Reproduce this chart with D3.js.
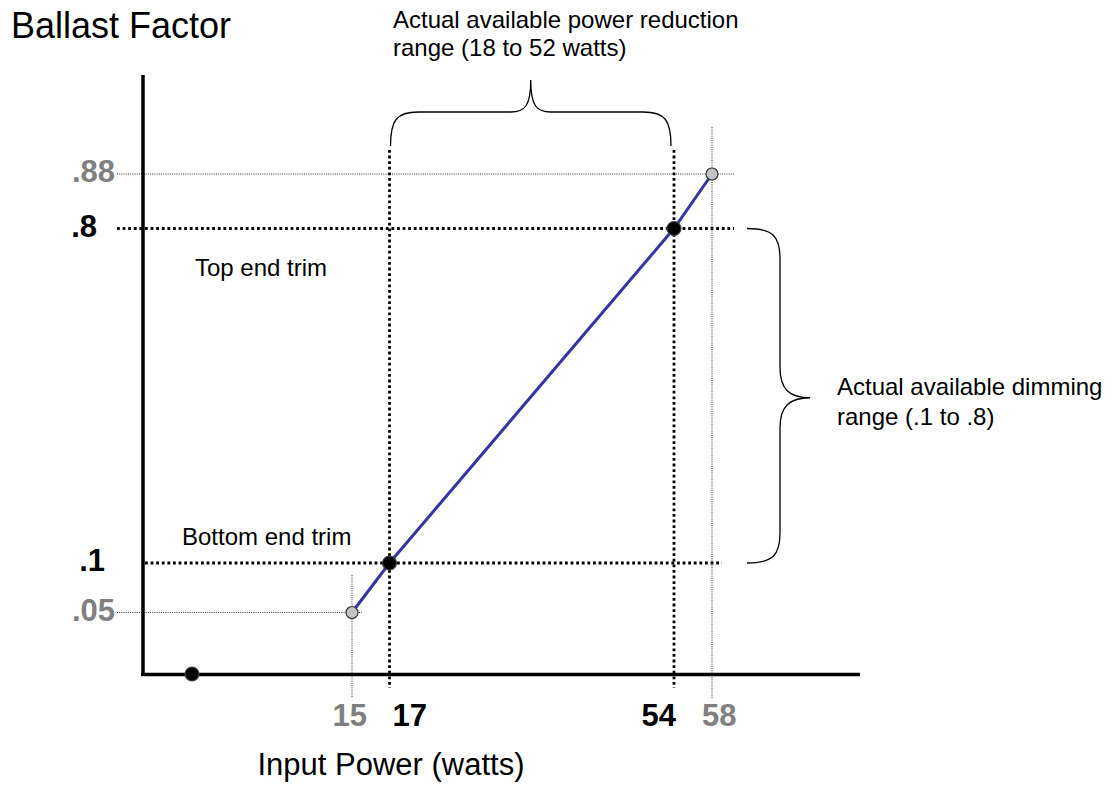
<!DOCTYPE html>
<html><head><meta charset="utf-8">
<script src="https://cdn.jsdelivr.net/npm/d3@7"></script>
<style>body{margin:0;background:#fff} text{font-family:"Liberation Sans",Arial,sans-serif}</style>
</head><body><svg id="c" width="1117" height="799"></svg>
<script>
// ---- data ----
const curvePower  = [15, 17, 54, 58];
const curveFactor = [0.05, 0.1, 0.8, 0.88];
const curveKind   = ["limit", "trim", "trim", "limit"];
const offPower = [0];
const offFactor = [0];
const powerTickValues = [15, 17, 54, 58];
const powerTickLabels = ["15", "17", "54", "58"];
const powerTickKind   = ["limit", "trim", "trim", "limit"];
const factorTickValues = [0.88, 0.8, 0.1, 0.05];
const factorTickLabels = [".88", ".8", ".1", ".05"];
const factorTickKind   = ["limit", "trim", "trim", "limit"];
const powerRangeText = ["Actual available power reduction", "range (18 to 52 watts)"];
const dimRangeText = ["Actual available dimming", "range (.1 to .8)"];

// ---- scales (non-uniform, as in the original drawing) ----
const x = d3.scaleLinear().domain([0, 15, 17, 54, 58]).range([192, 352, 389.5, 674, 712]);
const y = d3.scaleLinear().domain([0, 0.05, 0.1, 0.8, 0.88]).range([674, 612.5, 563, 228.5, 174]);

const svg = d3.select("#c");
const grey = "#808080";

// reference lines
const thin = {stroke: "#333", w: 1, dash: "1,1.2"};
const thick = {stroke: "#000", w: 2.8, dash: "2.8,2.8"};
function hline(v, x1, x2, st) {
  svg.append("line").attr("x1", x1).attr("x2", x2).attr("y1", y(v)).attr("y2", y(v))
    .attr("stroke", st.stroke).attr("stroke-width", st.w).attr("stroke-dasharray", st.dash);
}
function vline(v, y1, y2, st) {
  svg.append("line").attr("y1", y1).attr("y2", y2).attr("x1", x(v)).attr("x2", x(v))
    .attr("stroke", st.stroke).attr("stroke-width", st.w).attr("stroke-dasharray", st.dash);
}
hline(0.88, 117, 734, thin);
hline(0.8, 117, 734, thick);
hline(0.1, 145, 722, thick);
hline(0.05, 117, 362, thin);
vline(15, 575, 698, thin);
vline(58, 127, 698, thin);
vline(17, 150, 688, thick);
vline(54, 150, 688, thick);

// axes
svg.append("line").attr("x1", 143).attr("x2", 143).attr("y1", 75).attr("y2", 676)
  .attr("stroke", "#000").attr("stroke-width", 3.5);
svg.append("line").attr("x1", 141).attr("x2", 860).attr("y1", 674.5).attr("y2", 674.5)
  .attr("stroke", "#000").attr("stroke-width", 3.5);

// curve
const pts = curvePower.map((p, i) => ({p, f: curveFactor[i], k: curveKind[i]}));
svg.append("path").datum(pts)
  .attr("d", d3.line().x(d => x(d.p)).y(d => y(d.f)))
  .attr("fill", "none").attr("stroke", "#3434a2").attr("stroke-width", 3);

svg.selectAll("circle.pt").data(pts).join("circle").attr("class", "pt")
  .attr("cx", d => x(d.p)).attr("cy", d => y(d.f))
  .attr("r", d => d.k === "trim" ? 7 : 6)
  .attr("fill", d => d.k === "trim" ? "#000" : "#c4c4c4")
  .attr("stroke", d => d.k === "trim" ? "#444" : "#333").attr("stroke-width", 1.2);

svg.selectAll("circle.off").data(offPower.map((p, i) => ({p, f: offFactor[i]}))).join("circle")
  .attr("class", "off").attr("cx", d => x(d.p)).attr("cy", d => y(d.f)).attr("r", 7)
  .attr("fill", "#000").attr("stroke", "#444").attr("stroke-width", 1.2);

// tick labels
const xoff = [{a: "end", dx: 15}, {a: "start", dx: 3}, {a: "end", dx: 2}, {a: "start", dx: -10}];
powerTickValues.forEach((v, i) => {
  svg.append("text").attr("x", x(v) + xoff[i].dx).attr("y", 726)
    .attr("text-anchor", xoff[i].a).attr("font-size", 31).attr("font-weight", "bold")
    .attr("fill", powerTickKind[i] === "limit" ? grey : "#000").text(powerTickLabels[i]);
});
const yRight = [115, 97, 105, 115];
factorTickValues.forEach((v, i) => {
  svg.append("text").attr("x", yRight[i]).attr("y", y(v) + 8)
    .attr("text-anchor", "end").attr("font-size", 31).attr("font-weight", "bold")
    .attr("fill", factorTickKind[i] === "limit" ? grey : "#000").text(factorTickLabels[i]);
});

// axis titles
svg.append("text").attr("x", 11).attr("y", 38).attr("font-size", 36).attr("fill", "#000").text("Ballast Factor");
svg.append("text").attr("x", 391).attr("y", 775).attr("text-anchor", "middle").attr("font-size", 31).attr("fill", "#000").text("Input Power (watts)");

// annotations
svg.append("text").attr("x", 195).attr("y", 276).attr("font-size", 24).text("Top end trim");
svg.append("text").attr("x", 182).attr("y", 545).attr("font-size", 24).text("Bottom end trim");
powerRangeText.forEach((t, i) => svg.append("text").attr("x", 393).attr("y", 28 + i * 28).attr("font-size", 24).text(t));
dimRangeText.forEach((t, i) => svg.append("text").attr("x", 837).attr("y", 395 + i * 30).attr("font-size", 24).text(t));

// horizontal brace over the power range 17..54
(function () {
  const x1 = x(17) + 1, x2 = x(54) - 3, xm = (x1 + x2) / 2;
  const y0 = 146, yb = 112, tip = 80, r = 28;
  const d = `M${x1},${y0} C${x1},${yb + 8} ${x1 + 6},${yb} ${x1 + r},${yb} L${xm - r + 8},${yb}` +
    ` C${xm - 6},${yb} ${xm},${yb - 6} ${xm},${tip}` +
    ` C${xm},${yb - 6} ${xm + 6},${yb} ${xm + r - 8},${yb} L${x2 - r},${yb}` +
    ` C${x2 - 6},${yb} ${x2},${yb + 8} ${x2},${y0}`;
  svg.append("path").attr("d", d).attr("fill", "none").attr("stroke", "#000").attr("stroke-width", 1.3);
})();

// vertical brace beside the dimming range .1 .. .8
(function () {
  const y1 = y(0.8), y2 = y(0.1), ym = (y1 + y2) / 2 + 2;
  const x0 = 747, xb = 780, tip = 810, r = 30;
  const d = `M${x0},${y1} C${x0 + 26},${y1} ${xb},${y1 + 8} ${xb},${y1 + r} L${xb},${ym - r}` +
    ` C${xb},${ym - 8} ${xb + 10},${ym} ${tip},${ym}` +
    ` C${xb + 10},${ym} ${xb},${ym + 8} ${xb},${ym + r} L${xb},${y2 - r}` +
    ` C${xb},${y2 - 8} ${x0 + 26},${y2} ${x0},${y2}`;
  svg.append("path").attr("d", d).attr("fill", "none").attr("stroke", "#000").attr("stroke-width", 1.3);
})();
</script></body></html>
